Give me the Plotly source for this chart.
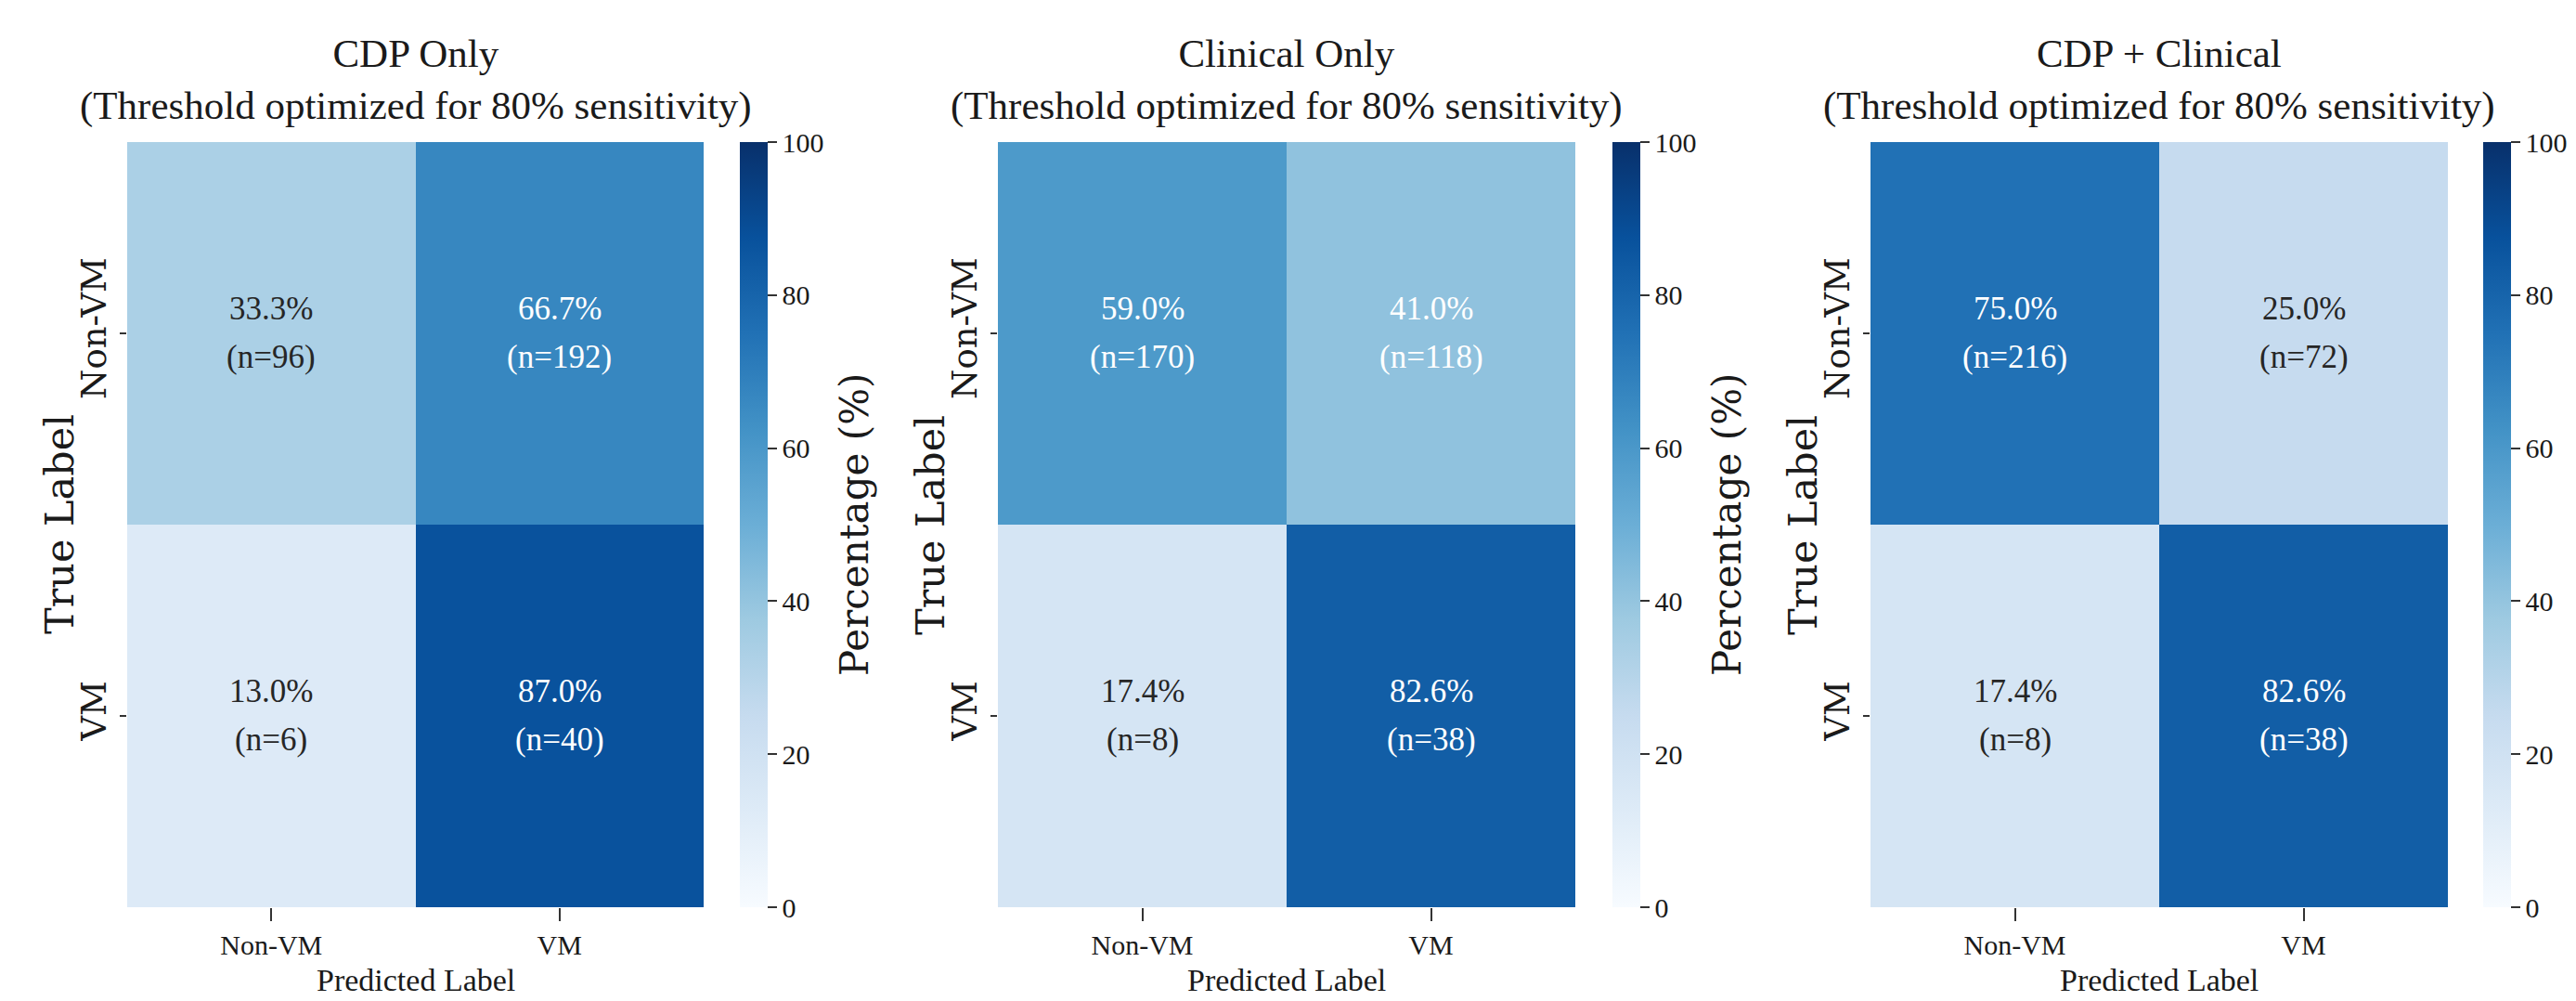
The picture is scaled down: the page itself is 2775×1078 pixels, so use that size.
import plotly.graph_objects as go

# Confusion matrices for three models (rows: true label, cols: predicted label)
panel_titles = ["CDP Only", "Clinical Only", "CDP + Clinical"]
subtitle = "(Threshold optimized for 80% sensitivity)"
class_labels = ["Non-VM", "VM"]

cdp_pct = [[33.3, 66.7], [13.0, 87.0]]
cdp_n = [[96, 192], [6, 40]]
clinical_pct = [[59.0, 41.0], [17.4, 82.6]]
clinical_n = [[170, 118], [8, 38]]
combined_pct = [[75.0, 25.0], [17.4, 82.6]]
combined_n = [[216, 72], [8, 38]]

cbar_ticks = [0, 20, 40, 60, 80, 100]

pct_sets = [cdp_pct, clinical_pct, combined_pct]
n_sets = [cdp_n, clinical_n, combined_n]

# Matplotlib "Blues" colormap stops
BLUES = [
    [0.000, "#f7fbff"], [0.125, "#deebf7"], [0.250, "#c6dbef"],
    [0.375, "#9ecae1"], [0.500, "#6baed6"], [0.625, "#4292c6"],
    [0.750, "#2171b5"], [0.875, "#08519c"], [1.000, "#08306b"],
]

W, H = 2775, 1078
FLAT = "Liberation Serif"
ROT = "DejaVu Serif"
INK = "#1a1a1a"
DARK_TXT = "#262626"

# pixel layout of each panel: heatmap left/right, colorbar left
heat_x = [(137, 758), (1075, 1697), (2015, 2637)]
cbar_left = [797, 1737, 2675]
heat_top, heat_bot = 153, 977


def px_x(p):
    return p / W


def px_y(p):
    return 1 - p / H


fig = go.Figure()
annotations = []

for i in range(3):
    ax = "" if i == 0 else str(i + 1)
    pct = pct_sets[i]
    cnt = n_sets[i]
    x0, x1 = heat_x[i]

    fig.add_trace(go.Heatmap(
        z=pct, x=class_labels, y=class_labels,
        xaxis="x" + ax, yaxis="y" + ax,
        colorscale=BLUES, zmin=0, zmax=100,
        hoverinfo="skip",
        colorbar=dict(
            x=px_x(cbar_left[i]), xanchor="left", xref="paper",
            y=px_y((heat_top + heat_bot) / 2), yanchor="middle", yref="paper",
            len=(heat_bot - heat_top) / H, lenmode="fraction",
            thickness=30, thicknessmode="pixels",
            xpad=0, ypad=0, outlinewidth=0,
            tickmode="array", tickvals=cbar_ticks,
            ticks="outside", ticklen=10, tickwidth=2, tickcolor="#333333",
            tickfont=dict(family=FLAT, size=30, color=INK),
        ),
    ))

    fig.update_layout({
        "xaxis" + ax: dict(
            domain=[px_x(x0), px_x(x1)], anchor="y" + ax,
            showgrid=False, zeroline=False, showline=False,
            ticks="outside", ticklen=14, tickwidth=2, tickcolor="#333333",
            tickfont=dict(family=FLAT, size=30, color=INK),
        ),
        "yaxis" + ax: dict(
            domain=[px_y(heat_bot), px_y(heat_top)], anchor="x" + ax,
            autorange="reversed",
            showgrid=False, zeroline=False, showline=False,
            ticks="outside", ticklen=7, tickwidth=2, tickcolor="#333333",
            tickangle=-90,
            tickfont=dict(family=ROT, size=37, color=INK),
        ),
    })

    # cell labels: percentage over count
    for r, true_lab in enumerate(class_labels):
        for c, pred_lab in enumerate(class_labels):
            col = "white" if pct[r][c] > 40 else DARK_TXT
            annotations.append(dict(
                x=pred_lab, y=true_lab, xref="x" + ax, yref="y" + ax,
                text=f"{pct[r][c]:.1f}%", showarrow=False, yshift=27,
                font=dict(family=FLAT, size=35, color=col),
            ))
            annotations.append(dict(
                x=pred_lab, y=true_lab, xref="x" + ax, yref="y" + ax,
                text=f"(n={cnt[r][c]})", showarrow=False, yshift=-25,
                font=dict(family=FLAT, size=35, color=col),
            ))

    cx = (x0 + x1) / 2
    # panel title
    annotations.append(dict(
        x=px_x(cx), y=px_y(86), xref="paper", yref="paper",
        xanchor="center", yanchor="middle", showarrow=False,
        text=f"{panel_titles[i]}<br>{subtitle}",
        font=dict(family=FLAT, size=43, color=INK),
    ))
    # axis titles
    annotations.append(dict(
        x=px_x(cx), y=px_y(1055), xref="paper", yref="paper",
        xanchor="center", yanchor="middle", showarrow=False,
        text="Predicted Label",
        font=dict(family=FLAT, size=34, color=INK),
    ))
    annotations.append(dict(
        x=px_x(x0 - 73), y=px_y(565), xref="paper", yref="paper",
        xanchor="center", yanchor="middle", showarrow=False,
        text="True Label", textangle=-90,
        font=dict(family=ROT, size=43, color=INK),
    ))
    # colorbar title, only where it falls inside the canvas
    cbar_title_x = cbar_left[i] + 30 + 93
    if cbar_title_x + 30 < W:
        annotations.append(dict(
            x=px_x(cbar_title_x), y=px_y(565), xref="paper", yref="paper",
            xanchor="center", yanchor="middle", showarrow=False,
            text="Percentage (%)", textangle=-90,
            font=dict(family=ROT, size=42, color=INK),
        ))

fig.update_layout(
    width=W, height=H,
    margin=dict(l=0, r=0, t=0, b=0),
    paper_bgcolor="white", plot_bgcolor="white",
    showlegend=False,
    annotations=annotations,
)

fig.write_html("out.html")
